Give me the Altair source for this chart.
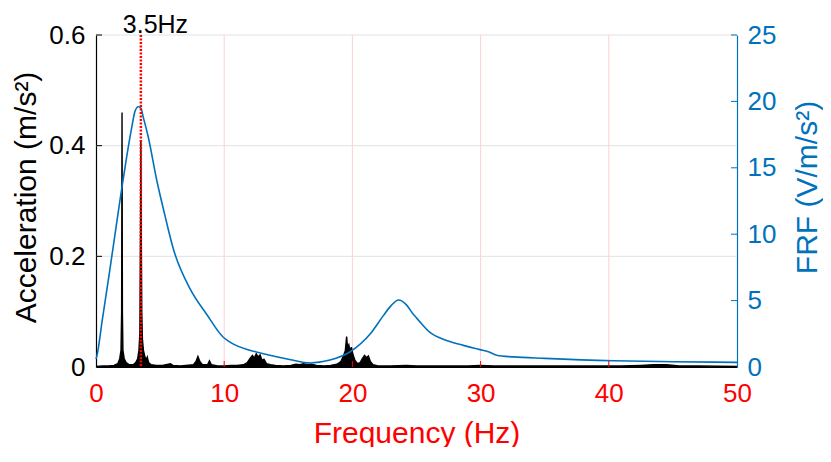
import altair as alt
import pandas as pd

# ---- data ----
spec_freq = [0.0, 0.5, 1.0, 1.4, 1.7, 1.85, 1.95, 2.0, 2.03, 2.06, 2.1, 2.2, 2.35, 2.6, 2.9,
             3.1, 3.25, 3.35, 3.42, 3.47, 3.5, 3.53, 3.57, 3.62, 3.7, 3.8, 3.9, 4.0, 4.1, 4.3,
             4.7, 5.2, 5.8, 6.0, 6.6, 7.0, 7.6, 7.8, 7.95, 8.1, 8.3, 8.7, 8.85, 9.0, 9.5,
             10.0, 10.5, 11.0, 11.5, 11.8, 12.0, 12.2, 12.35, 12.5, 12.65, 12.8, 12.95, 13.1, 13.3,
             13.6, 14.0, 14.6, 15.2, 15.6, 15.9, 16.2, 16.5, 16.8, 17.2, 17.8, 18.3, 18.8, 19.1,
             19.3, 19.45, 19.55, 19.62, 19.72, 19.82, 19.92, 20.05, 20.2, 20.4, 20.6, 20.8, 20.95,
             21.1, 21.25, 21.4, 21.6, 22.0, 23.0, 24.2, 25.0, 26.0, 27.5, 29.0, 30.0, 31.0, 33.0,
             35.0, 37.0, 39.0, 41.0, 42.5, 43.5, 44.5, 45.5, 47.0, 50.0]
spec_amp = [0.001, 0.002, 0.002, 0.003, 0.006, 0.015, 0.03, 0.10, 0.46, 0.10, 0.03, 0.015, 0.008, 0.004, 0.004,
            0.008, 0.015, 0.03, 0.06, 0.24, 0.407, 0.24, 0.10, 0.05, 0.03, 0.02, 0.012, 0.018, 0.008, 0.004,
            0.003, 0.003, 0.006, 0.003, 0.002, 0.003, 0.004, 0.010, 0.019, 0.010, 0.004, 0.004, 0.011, 0.004, 0.002,
            0.002, 0.003, 0.003, 0.004, 0.008, 0.015, 0.021, 0.016, 0.024, 0.018, 0.022, 0.012, 0.014, 0.006,
            0.004, 0.003, 0.002, 0.003, 0.005, 0.004, 0.006, 0.004, 0.005, 0.003, 0.002, 0.003, 0.005, 0.010,
            0.020, 0.030, 0.055, 0.035, 0.040, 0.028, 0.036, 0.022, 0.012, 0.006, 0.008, 0.016, 0.021,
            0.017, 0.020, 0.010, 0.004, 0.002, 0.002, 0.003, 0.002, 0.002, 0.002, 0.002, 0.003, 0.002, 0.002,
            0.002, 0.002, 0.002, 0.002, 0.003, 0.004, 0.004, 0.002, 0.002, 0.001]

frf_freq = [0.0, 0.05, 0.5, 1.0, 1.5, 2.0, 2.39, 2.78, 3.04, 3.3, 3.5, 3.69, 4.08, 4.73, 5.38, 6.03,
            7.33, 8.63, 9.93, 10.45, 12.5, 13.05, 15.1, 16.7, 18.25, 19.8, 21.4, 22.4, 23.0, 23.6,
            24.2, 24.75, 25.0, 26.05, 27.35, 28.65, 29.95, 30.6, 31.25, 32.55, 35.0, 40.35, 45.0, 50.0]
frf_val = [0.6, 0.76, 3.6, 6.8, 10.1, 13.4, 15.8, 18.0, 19.25, 19.6, 19.5, 18.8, 17.3, 14.1, 11.4, 8.9,
           5.9, 3.97, 2.24, 1.87, 1.13, 1.0, 0.57, 0.3, 0.52, 1.13, 2.5, 3.85, 4.6, 5.05,
           4.7, 3.97, 3.7, 2.6, 2.0, 1.63, 1.31, 1.15, 0.89, 0.76, 0.65, 0.47, 0.4, 0.35]

marker_freq = [3.5]
marker_label = ["3.5Hz"]
x_ticks = [0, 10, 20, 30, 40, 50]
x_grid = [10, 20, 30, 40]
acc_ticks = [0, 0.2, 0.4, 0.6]
acc_grid = [0.2, 0.4, 0.6]
frf_ticks = [0, 5, 10, 15, 20, 25]

# ---- style ----
FONT = "Liberation Sans"
BLUE = "#0072BD"
W, H = 641, 332

xscale = alt.Scale(domain=[0, 50], nice=False, zero=False)
accscale = alt.Scale(domain=[0, 0.6], nice=False)
frfscale = alt.Scale(domain=[0, 25], nice=False)

xaxis = alt.Axis(values=x_ticks, title="Frequency (Hz)", labelColor="red", titleColor="red",
                 labelFontSize=26, titleFontSize=30, titleFontWeight="normal",
                 domainColor="black", domainWidth=1.2, ticks=False, grid=False,
                 labelPadding=13, labelFlush=False,
                 titleX=W / 2, titleY=75, titleAlign="center", titleBaseline="alphabetic")

def X():
    return alt.X("f:Q", scale=xscale, axis=xaxis)

spec_df = pd.DataFrame({"f": spec_freq, "a": spec_amp})
frf_df = pd.DataFrame({"f": frf_freq, "v": frf_val})

vgrid = alt.Chart(pd.DataFrame({"f": x_grid})).mark_rule(color="#ffd0d0", strokeWidth=1).encode(x=X())
hgrid = alt.Chart(pd.DataFrame({"a": acc_grid})).mark_rule(color="#e2e2e2", strokeWidth=1).encode(
    y=alt.Y("a:Q", scale=accscale, axis=None))

spec_area = alt.Chart(spec_df).mark_area(color="black", opacity=1).encode(
    x=X(),
    y=alt.Y("a:Q", scale=accscale,
            axis=alt.Axis(orient="left", values=acc_ticks, format="~g",
                          title="Acceleration (m/s²)", labelColor="black", titleColor="black",
                          labelFontSize=26, titleFontSize=30, titleFontWeight="normal",
                          domainColor="black", domainWidth=1.2, ticks=False, grid=False,
                          labelPadding=11, titleAngle=270, titleX=-61, titleY=H / 2 - 4,
                          titleAlign="center", titleBaseline="alphabetic")))
spec_line = alt.Chart(spec_df).mark_line(color="black", strokeWidth=1.4).encode(
    x=X(), y=alt.Y("a:Q", scale=accscale, axis=None))

frf_line = alt.Chart(frf_df).mark_line(color=BLUE, strokeWidth=1.6, interpolate="monotone").encode(
    x=X(),
    y=alt.Y("v:Q", scale=frfscale,
            axis=alt.Axis(orient="right", values=frf_ticks, title="FRF (V/m/s²)",
                          labelColor=BLUE, titleColor=BLUE,
                          labelFontSize=26, titleFontSize=30, titleFontWeight="normal",
                          domainColor=BLUE, domainWidth=1.2, ticks=False, grid=False,
                          labelPadding=10, titleAngle=270, titleX=79, titleY=152,
                          titleAlign="center", titleBaseline="alphabetic")))

marker = alt.Chart(pd.DataFrame({"f": marker_freq})).mark_rule(
    color="red", strokeWidth=2.5, strokeDash=[2, 1.5]).encode(x=X())
marker_text = alt.Chart(pd.DataFrame({"f": marker_freq, "t": marker_label})).mark_text(
    font=FONT, fontSize=25, color="black", align="center", baseline="alphabetic", dx=14.6).encode(
    x=X(), y=alt.value(-2), text="t:N")

xt = alt.Chart(pd.DataFrame({"f": x_grid})).mark_rule(color="red", strokeWidth=1).encode(
    x=X(), y=alt.value(H), y2=alt.value(H - 6))
lt = alt.Chart(pd.DataFrame({"a": acc_grid})).mark_rule(color="black", strokeWidth=1).encode(
    y=alt.Y("a:Q", scale=accscale, axis=None), x=alt.value(0), x2=alt.value(6))
rt = alt.Chart(pd.DataFrame({"v": frf_ticks[1:]})).mark_rule(color=BLUE, strokeWidth=1).encode(
    y=alt.Y("v:Q", scale=frfscale, axis=None), x=alt.value(W - 6), x2=alt.value(W))

chart = alt.layer(vgrid, hgrid, spec_area, spec_line, frf_line, marker, marker_text, xt, lt, rt).resolve_scale(
    y="independent").properties(
    width=W, height=H,
    autosize=alt.AutoSizeParams(type="none"),
    padding={"left": 88, "top": 27, "right": 86, "bottom": 80},
).configure_view(strokeWidth=0).configure_axis(labelFont=FONT, titleFont=FONT)

chart.save("out.html", embed_options={"renderer": "svg", "actions": False})
